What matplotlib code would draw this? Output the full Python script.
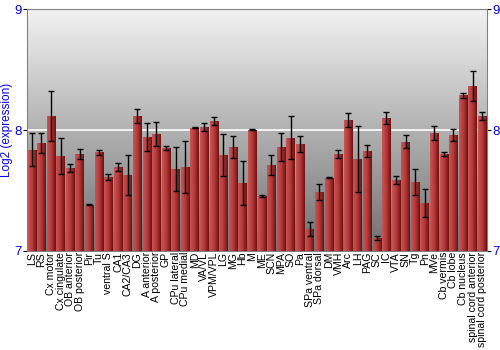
import numpy as np
import matplotlib.pyplot as plt
from matplotlib.colors import LinearSegmentedColormap

# brain regions and log2 expression values
regions = ['LS', 'RS', 'Cx motor', 'Cx cingulate', 'OB anterior', 'OB posterior',
           'Pir', 'Tu', 'ventral S', 'CA1', 'CA2/CA3', 'DG', 'A anterior',
           'A posterior', 'GP', 'CPu lateral', 'CPu medial', 'MD', 'VA/VL',
           'VPM/VPL', 'LG', 'MG', 'Hb', 'M', 'ME', 'SCN', 'MPA', 'SO', 'Pa',
           'SPa ventral', 'SPa dorsal', 'DM', 'VMH', 'Arc', 'LH', 'PAG', 'SC',
           'IC', 'VTA', 'SN', 'Tg', 'Pn', 'MVe', 'Cb vermis', 'Cb lobe',
           'Cb nucleus', 'spinal cord anterior', 'spinal cord posterior']
expression = [7.837, 7.892, 8.116, 7.785, 7.685, 7.801, 7.381, 7.815, 7.610, 7.693,
              7.627, 8.113, 7.942, 7.970, 7.851, 7.677, 7.696, 8.017, 8.025, 8.075,
              7.790, 7.859, 7.561, 8.003, 7.453, 7.707, 7.859, 7.936, 7.881, 7.182,
              7.486, 7.605, 7.801, 8.080, 7.762, 7.826, 7.105, 8.099, 7.583, 7.901,
              7.569, 7.395, 7.972, 7.801, 7.959, 8.287, 8.367, 8.116]
errors = [0.135, 0.083, 0.205, 0.150, 0.030, 0.040, 0.003, 0.022, 0.027, 0.035,
          0.167, 0.058, 0.117, 0.100, 0.020, 0.186, 0.215, 0.004, 0.036, 0.035,
          0.175, 0.095, 0.182, 0.004, 0.010, 0.083, 0.117, 0.177, 0.066, 0.058,
          0.066, 0.003, 0.032, 0.058, 0.273, 0.048, 0.020, 0.050, 0.033, 0.054,
          0.109, 0.117, 0.058, 0.014, 0.048, 0.020, 0.124, 0.037]
yticks = [7, 8, 9]

blue = '#0000ff'
plt.rcParams['font.family'] = 'Liberation Sans'

fig = plt.figure(figsize=(5, 3.5), dpi=100)
ax = fig.add_axes([0.054, 0.284, 0.92, 0.689])
x = np.arange(len(regions))
ax.set_xlim(-0.5, len(regions) - 0.5)
ax.set_ylim(7, 9)

# grey background gradient, light on top
bg = LinearSegmentedColormap.from_list('bg', ['#707070', '#f2f2f2'])
ax.imshow(np.linspace(0, 1, 256).reshape(-1, 1), cmap=bg, aspect='auto',
          extent=[-0.5, len(regions) - 0.5, 7, 9], origin='lower', zorder=0)
ax.axhline(8, color='white', lw=1.2, zorder=1)

# red bars with a horizontal shading
bars = ax.bar(x, [v - 7 for v in expression], bottom=7, width=0.88,
              color='#b03535', linewidth=0, zorder=2)
barcm = LinearSegmentedColormap.from_list('bar', ['#c85555', '#b53838', '#6a1212'])
grad = np.linspace(0, 1, 64).reshape(1, -1)
for b in bars:
    im = ax.imshow(grad, cmap=barcm, aspect='auto', zorder=3,
                   extent=[b.get_x(), b.get_x() + b.get_width(), 7, 7 + b.get_height()])
    im.set_clip_path(b)

ax.errorbar(x, expression, yerr=errors, fmt='none', ecolor='black',
            elinewidth=1, capsize=2.5, capthick=1, zorder=4)

ax.set_xticks(x)
ax.set_xticklabels(regions, rotation=90, fontsize=7.6)
ax.tick_params(axis='x', length=0, pad=1)
ax.set_yticks(yticks)
ax.tick_params(axis='y', length=3, labelsize=9.5, labelcolor=blue,
               right=True, labelright=True, pad=1)
ax.set_ylabel('Log2 (expression)', color=blue, fontsize=8.5, labelpad=1)
for s in ax.spines.values():
    s.set_color('#808080')

plt.savefig('out.png', dpi=100)
